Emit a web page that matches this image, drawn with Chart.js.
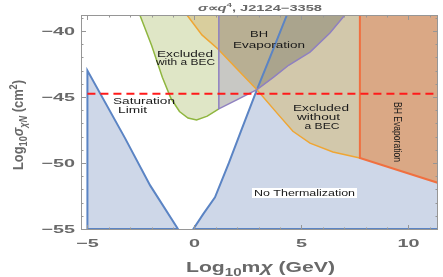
<!DOCTYPE html>
<html>
<head>
<meta charset="utf-8">
<script src="https://cdn.jsdelivr.net/npm/chart.js@4.4.1/dist/chart.umd.min.js"></script>
<style>
  html, body { margin: 0; padding: 0; background: #fff; overflow: hidden; }
</style>
</head>
<body>
<canvas id="c" width="443" height="277"></canvas>
<script>
// limiti degli assi
const xMin = -5.3, xMax = 11.38;
const yMin = -55.08, yMax = -38.79;
const xTicks = [-5, 0, 5, 10];
const yTicks = [-55, -50, -45, -40];

// No Thermalization: triangolo a sinistra
const noThermLeftX = [-5, -5, -3.25, -2.07, -0.77];
const noThermLeftY = [-55, -43.0, -48.1, -51.7, -55];
// No Thermalization: curva a destra
const noThermRightX = [-0.05, 0.4, 0.96, 1.61, 2.17, 2.92, 3.53, 4.32];
const noThermRightY = [-55, -53.9, -52.6, -50.0, -47.6, -44.45, -42.0, -38.79];
// Excluded with a BEC
const becX = [-2.55, -2.0, -1.5, -1.1, -0.7, -0.3, 0.1, 0.6, 1.14];
const becY = [-38.79, -41.1, -43.5, -45.1, -46.1, -46.6, -46.75, -46.45, -45.9];
// Excluded without a BEC
const noBecX = [-0.35, 0.35, 1.1, 2.0, 2.92, 3.9, 4.6, 5.4, 6.47, 7.73];
const noBecY = [-38.79, -40.3, -41.36, -42.9, -44.45, -46.3, -47.6, -48.5, -49.17, -49.62];
// BH Evaporation (centrale)
const bhX = [1.14, 1.14, 2.0, 2.92, 3.7, 4.4, 5.4, 6.33, 7.03];
const bhY = [-38.79, -45.9, -45.2, -44.45, -43.5, -42.6, -41.6, -40.15, -38.79];
// BH Evaporation (a destra)
const bhRightX = [7.73, 7.73, 11.38];
const bhRightY = [-38.79, -49.62, -51.51];
// saturation limit
const saturation = -44.75;

const pts = (xs, ys) => xs.map((x, i) => ({ x: x, y: ys[i] }));

// poligoni riempiti
function area(data, color, order) {
  return { data: data, showLine: true, fill: 'shape', backgroundColor: color,
           borderWidth: 0, pointRadius: 0, order: order };
}
// bordi
function edge(data, color, width, order, dash) {
  return { data: data, showLine: true, fill: false, borderColor: color, borderWidth: width,
           borderDash: dash || [], pointRadius: 0, order: order };
}

const datasets = [
  area(pts(noThermLeftX, noThermLeftY), 'rgb(206,215,232)', 20),
  area(pts(noThermRightX, noThermRightY).concat([{ x: xMax, y: yMax }, { x: xMax, y: -55 }]), 'rgb(206,215,232)', 19),
  area(pts(becX, becY).concat([{ x: bhX[0], y: yMax }]), 'rgb(223,230,198)', 18),
  area(pts(noBecX, noBecY).concat([{ x: xMax, y: bhRightY[2] }, { x: xMax, y: yMax }]), 'rgba(214,190,130,0.6)', 17),
  area(pts(bhX, bhY), 'rgba(98,98,86,0.35)', 16),
  area(pts(bhRightX, bhRightY).concat([{ x: xMax, y: yMax }]), 'rgba(226,136,96,0.5)', 15),

  edge(pts(noThermLeftX, noThermLeftY).concat([{ x: noThermLeftX[0], y: noThermLeftY[0] }]), '#5b84c4', 2, 6),
  edge([{ x: xMax, y: -55 }].concat(pts(noThermRightX, noThermRightY)), '#5b84c4', 2, 5),
  edge(pts(becX, becY), '#8fb63f', 1.5, 4),
  edge(pts(noBecX, noBecY), '#efa634', 1.5, 3),
  edge(pts(bhX, bhY), '#8f80c0', 1.5, 2),
  edge(pts(bhRightX, bhRightY).concat([{ x: xMax, y: yMax }]), '#f07040', 2, 1),
  edge([{ x: -5, y: saturation }, { x: xMax, y: saturation }], '#ff1a1a', 2, 0, [8, 5])
];

const gray = 'rgb(105,105,105)';
const base = '"Liberation Sans", Arial, sans-serif';

// testo allargato in orizzontale fino a una larghezza data
function fitText(ctx, text, cx, cy, w, font, rot) {
  ctx.save();
  ctx.font = font;
  const s = w / ctx.measureText(text).width;
  ctx.translate(cx, cy);
  if (rot) ctx.rotate(rot);
  ctx.scale(s, 1);
  ctx.textAlign = 'center';
  ctx.textBaseline = 'middle';
  ctx.fillText(text, 0, 0);
  ctx.restore();
}

// testo con pedici / apici
function richText(ctx, segs, cx, by, w, rot) {
  let nat = 0;
  segs.forEach(s => { ctx.font = s[1]; nat += ctx.measureText(s[0]).width; });
  const k = w / nat;
  ctx.save();
  ctx.translate(cx, by);
  if (rot) ctx.rotate(rot);
  ctx.scale(k, 1);
  ctx.textAlign = 'left';
  ctx.textBaseline = 'alphabetic';
  let x = -nat / 2;
  segs.forEach(s => {
    ctx.font = s[1];
    ctx.fillText(s[0], x, s[2] || 0);
    x += ctx.measureText(s[0]).width;
  });
  ctx.restore();
}

const decor = {
  id: 'decor',
  afterDraw(chart) {
    const ctx = chart.ctx;
    const a = chart.chartArea;
    const sx = chart.scales.x, sy = chart.scales.y;

    // etichette dentro il grafico
    ctx.fillStyle = '#1a1a1a';
    const f = '9.5px ' + base;
    fitText(ctx, 'Excluded', 185, 54, 56, f);
    fitText(ctx, 'with a BEC', 185.5, 62, 59, f);
    fitText(ctx, 'BH', 259, 34.5, 18, f);
    fitText(ctx, 'Evaporation', 269, 45, 72, f);
    fitText(ctx, 'Saturation', 144, 101.5, 62, f);
    fitText(ctx, 'Limit', 132.5, 110.5, 29, f);
    fitText(ctx, 'Excluded', 321, 108, 56, f);
    fitText(ctx, 'without', 318.5, 117.5, 43, f);
    fitText(ctx, 'a BEC', 322, 126, 35, f);
    fitText(ctx, 'BH Evaporation', 397.5, 132, 60, '11px ' + base, Math.PI / 2);
    ctx.fillStyle = '#fff';
    ctx.fillRect(252, 188, 105, 10);
    ctx.fillStyle = '#1a1a1a';
    fitText(ctx, 'No Thermalization', 304.5, 193, 101, f);

    // cornice e tacche
    ctx.save();
    ctx.strokeStyle = 'rgb(150,150,150)';
    ctx.lineWidth = 1;
    ctx.strokeRect(a.left + 0.5, a.top + 0.5, a.right - a.left - 1, a.bottom - a.top - 1);
    ctx.beginPath();
    for (let v = Math.ceil(xMin); v <= Math.floor(xMax); v++) {
      const L = v % 5 === 0 ? 5 : 2.5;
      const px = Math.round(sx.getPixelForValue(v)) + 0.5;
      ctx.moveTo(px, a.bottom); ctx.lineTo(px, a.bottom - L);
      ctx.moveTo(px, a.top); ctx.lineTo(px, a.top + L);
    }
    for (let v = Math.ceil(yMin); v <= Math.floor(yMax); v++) {
      const L = v % 5 === 0 ? 5 : 2.5;
      const py = Math.round(sy.getPixelForValue(v)) + 0.5;
      ctx.moveTo(a.left, py); ctx.lineTo(a.left + L, py);
      ctx.moveTo(a.right, py); ctx.lineTo(a.right - L, py);
    }
    ctx.stroke();
    ctx.restore();

    // etichette delle tacche
    ctx.fillStyle = gray;
    const tf = 'bold 11px ' + base;
    ctx.font = tf;
    yTicks.forEach(v => {
      const t = String(v).replace('-', '\u2212');
      const w = ctx.measureText(t).width * 1.8;
      fitText(ctx, t, 75 - w / 2, sy.getPixelForValue(v) + 1, w, tf);
      ctx.font = tf;
    });
    xTicks.forEach(v => {
      const t = String(v).replace('-', '\u2212');
      const w = ctx.measureText(t).width * 1.8;
      fitText(ctx, t, sx.getPixelForValue(v), 244, w, tf);
      ctx.font = tf;
    });

    // titoli degli assi
    const b14 = 'bold 14px ' + base, b10 = 'bold 10px ' + base;
    const bi14 = 'italic bold 14px ' + base, bi10 = 'italic bold 10px ' + base;
    richText(ctx, [['Log', b14], ['10', b10, 4], ['m', b14], ['\u03c7', bi14], [' (GeV)', b14]], 260.5, 272, 149);
    richText(ctx, [['Log', b14], ['10', b10, 4], ['\u03c3', bi14], ['\u03c7N', bi10, 4], [' (cm', b14], ['2', b10, -6], [')', b14]],
      23, 125, 90, -Math.PI / 2);

    // titolo
    const b9 = 'bold 9px ' + base, bi9 = 'italic bold 9px ' + base, b6 = 'bold 6px ' + base;
    richText(ctx, [['\u03c3', bi9], ['\u221d', b9], ['q', bi9], ['4', b6, -4], [', J2124\u22123358', b9]], 260, 10.5, 124);
  }
};

new Chart(document.getElementById('c').getContext('2d'), {
  type: 'scatter',
  data: { datasets: datasets },
  options: {
    responsive: false,
    animation: false,
    layout: { padding: { left: 81, top: 15, right: 5, bottom: 47 } },
    plugins: { legend: { display: false }, tooltip: { enabled: false } },
    scales: {
      x: { type: 'linear', min: xMin, max: xMax, display: false },
      y: { type: 'linear', min: yMin, max: yMax, display: false }
    }
  },
  plugins: [decor]
});
</script>
</body>
</html>
